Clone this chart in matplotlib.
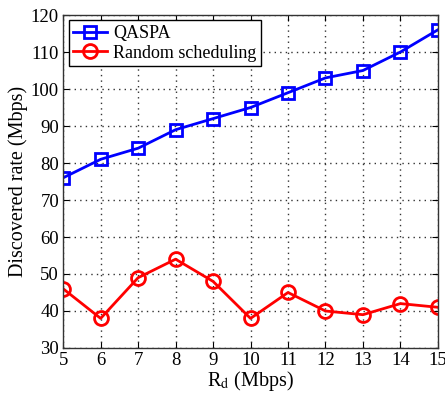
import matplotlib
matplotlib.use("Agg")
import matplotlib.pyplot as plt

# data
rd = [5, 6, 7, 8, 9, 10, 11, 12, 13, 14, 15]
qaspa = [76, 81, 84, 89, 92, 95, 99, 103, 105, 110, 116]
random_sched = [46, 38, 49, 54, 48, 38, 45, 40, 39, 42, 41]

plt.rcParams['font.family'] = ['Liberation Serif', 'DejaVu Serif']
plt.rcParams['mathtext.fontset'] = 'stix'

fig = plt.figure(figsize=(4.45, 3.95), dpi=100)
ax = fig.add_axes([0.142, 0.119, 0.842, 0.843])

ax.plot(rd, qaspa, color='blue', marker='s', markersize=9, markerfacecolor='none',
        markeredgewidth=2, linewidth=2, label='QASPA')
ax.plot(rd, random_sched, color='red', marker='o', markersize=10, markerfacecolor='none',
        markeredgewidth=2, linewidth=2, label='Random scheduling')

ax.set_xlim(5, 15)
ax.set_ylim(30, 120)
ax.set_xticks(range(5, 16))
ax.set_yticks(range(30, 121, 10))
ax.tick_params(direction='in', labelsize=13.5, length=4, top=True, right=True, pad=3)
ax.grid(True, linestyle=(0, (1, 3)), color='#333333', linewidth=1.0)
for s in ax.spines.values():
    s.set_linewidth(1.0)
    s.set_color('#333333')

ax.set_xlabel(r'R$_\mathrm{d}$ (Mbps)', fontsize=14.5, labelpad=0)
ax.set_ylabel('Discovered rate (Mbps)', fontsize=14.5, labelpad=2)

leg = ax.legend(loc='upper left', fontsize=13, fancybox=False, edgecolor='black',
                framealpha=1, borderaxespad=0.3, handlelength=1.9, borderpad=0.25,
                labelspacing=0.15, handletextpad=0.3)
leg.get_frame().set_linewidth(1.0)

fig.savefig('out.png', dpi=100)
